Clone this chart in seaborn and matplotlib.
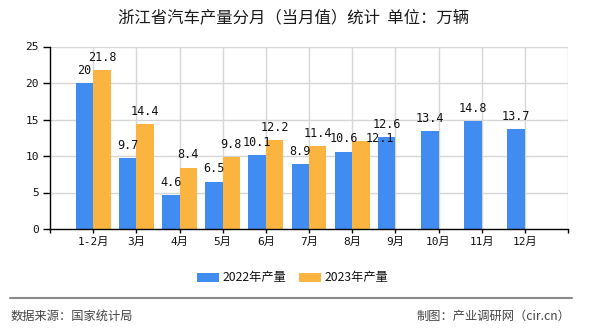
import numpy as np
import pandas as pd
import seaborn as sns
import matplotlib
matplotlib.use("Agg")
import matplotlib.pyplot as plt
from matplotlib.lines import Line2D
from matplotlib.patches import Rectangle

# ---- data ----
months = ['1-2月', '3月', '4月', '5月', '6月', '7月', '8月', '9月', '10月', '11月', '12月']
prod_2022 = [20, 9.7, 4.6, 6.5, 10.1, 8.9, 10.6, 12.6, 13.4, 14.8, 13.7]
prod_2023 = [21.8, 14.4, 8.4, 9.8, 12.2, 11.4, 12.1, np.nan, np.nan, np.nan, np.nan]
series_names = ['2022年产量', '2023年产量']
title_text = '浙江省汽车产量分月（当月值）统计  单位：万辆'
source_text = '数据来源：国家统计局'
credit_text = '制图：产业调研网（cir.cn）'
y_ticks = [0, 5, 10, 15, 20, 25]

colors = ['#418CF0', '#FCB441']

df = pd.DataFrame({
    'month': months * 2,
    'value': prod_2022 + prod_2023,
    'series': [series_names[0]] * len(months) + [series_names[1]] * len(months),
})

sns.set_theme(style='white')
cjk = ['Noto Sans CJK SC', 'DejaVu Sans']
mono = ['DejaVu Sans Mono', 'Noto Sans CJK SC']
plt.rcParams['font.family'] = cjk

W, H = 590, 330
fig = plt.figure(figsize=(W / 100, H / 100), dpi=100)
ax_left, ax_right, ax_top, ax_bottom = 50, 568, 46.5, 229
ax = fig.add_axes([ax_left / W, 1 - ax_bottom / H, (ax_right - ax_left) / W, (ax_bottom - ax_top) / H])

sns.barplot(data=df, x='month', y='value', hue='series', order=months,
            hue_order=series_names, palette=colors, width=0.81, dodge=True,
            errorbar=None, linewidth=0, saturation=1, legend=False, ax=ax)

ax.set_xlim(-1, len(months))
ax.set_ylim(0, 25)
ax.set_yticks(y_ticks)
ax.set_yticklabels([str(t) for t in y_ticks], family=mono, fontsize=8, color='#111111')
ax.set_xticks(range(-1, len(months) + 1))
ax.set_xticklabels([''] + months + [''], family=mono, fontsize=8, color='#111111')
ax.set_xlabel('')
ax.set_ylabel('')

# grid
for t in y_ticks[1:]:
    ax.axhline(t, color='#d6d6d6', lw=1, zorder=0)
for i in range(0, len(months) + 1):
    ax.axvline(i, color='#d6d6d6', lw=1, zorder=0)
ax.set_axisbelow(True)

for s in ['top', 'right']:
    ax.spines[s].set_visible(False)
for s in ['left', 'bottom']:
    ax.spines[s].set_color('#000000')
    ax.spines[s].set_linewidth(1)
ax.tick_params(axis='y', direction='out', length=5, width=1, color='#000000', pad=3, left=True)
ax.tick_params(axis='x', direction='out', length=3, width=1, color='#000000', pad=3, bottom=True)

# value labels
special = {(1, 6): (14, -7.5)}  # label moved aside in the original (8月 2023)
for si, cont in enumerate(ax.containers):
    bars = [b for b in cont if not np.isnan(b.get_height())]
    for b in bars:
        h = b.get_height()
        xc = b.get_x() + b.get_width() / 2
        idx = int(round(xc))
        dx, dy = special.get((si, idx), (0, 0))
        ax.annotate(f'{round(h, 1):g}', (xc, h), xytext=(dx, 4.5 + dy), textcoords='offset points',
                    ha='center', va='bottom', family=mono, fontsize=8.5, color='#111111',
                    annotation_clip=False)

# title
fig.text(294 / W, 1 - 17.5 / H, title_text, ha='center', va='center', fontsize=11.8,
         color='#1a1a1a', family=cjk)

# legend
leg_y = 277
for i, (name, col) in enumerate(zip(series_names, colors)):
    x0 = [197, 299][i]
    fig.patches.append(Rectangle((x0 / W, 1 - (leg_y + 4.5) / H), 22 / W, 9 / H,
                                 transform=fig.transFigure, facecolor=col, edgecolor='none'))
    fig.text((x0 + 26) / W, 1 - leg_y / H, name, ha='left', va='center', fontsize=8.8,
             color='#111111', family=cjk)

# footer
fig.add_artist(Line2D([10 / W, 572 / W], [1 - 297.7 / H, 1 - 297.7 / H], transform=fig.transFigure,
                      color='#8a8a8a', lw=1.5))
fig.text(11 / W, 1 - 316 / H, source_text, ha='left', va='center', fontsize=8.8,
         color='#444444', family=cjk)
fig.text(570 / W, 1 - 316 / H, credit_text, ha='right', va='center', fontsize=8.8,
         color='#444444', family=cjk)

fig.savefig('out.png', dpi=100)
